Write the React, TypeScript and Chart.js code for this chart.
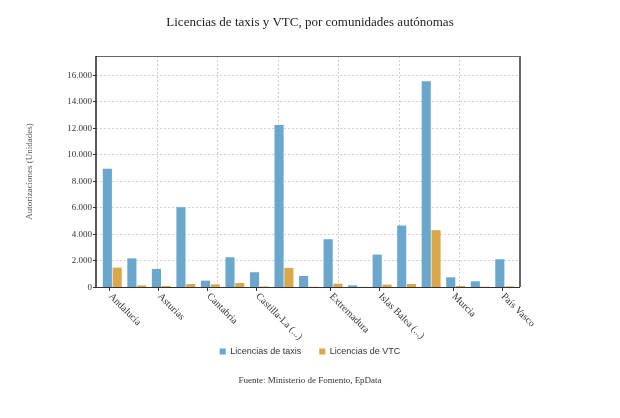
import React, { useEffect, useRef } from 'react';
import { Chart, registerables } from 'chart.js';

Chart.register(...registerables);

const chartTitle = 'Licencias de taxis y VTC, por comunidades autónomas';
const yAxisTitle = 'Autorizaciones (Unidades)';
const sourceText = 'Fuente: Ministerio de Fomento, EpData';

const categories = [
  'Andalucía', 'Aragón', 'Asturias', 'Canarias', 'Cantabria', 'Castilla y León',
  'Castilla-La Mancha', 'Cataluña', 'Comunitat Valenciana', 'Extremadura', 'Galicia',
  'Islas Baleares', 'La Rioja', 'Madrid', 'Murcia', 'Navarra', 'País Vasco',
];
const tickLabels = [
  'Andalucía', '', 'Asturias', '', 'Cantabria', '', 'Castilla-La (...)', '', '',
  'Extremadura', '', 'Islas Balea (...)', '', '', 'Murcia', '', 'País Vasco',
];
const seriesNames = ['Licencias de taxis', 'Licencias de VTC'];
const taxis = [8900, 2160, 1360, 6010, 480, 2240, 1110, 12200, 830, 3600, 125, 2440, 4630, 15500, 730, 430, 2090];
const vtc = [1460, 125, 75, 225, 200, 300, 45, 1440, 20, 250, 10, 180, 225, 4280, 75, 25, 50];
const yTicks = [0, 2000, 4000, 6000, 8000, 10000, 12000, 14000, 16000];
const yMax = 17400;

const COLORS = ['#6BA6CD', '#D9A84A'];
const SERIF = '"Liberation Serif", "Times New Roman", serif';
const SANS = '"Liberation Sans", Arial, sans-serif';

const fmt = (v: number) => String(v).replace(/\B(?=(\d{3})+(?!\d))/g, '.');

const decorPlugin = {
  id: 'decor',
  beforeDatasetsDraw(chart: any) {
    const { ctx, chartArea: a, scales } = chart;
    const FL = a.left - 4;
    const FR = a.right + 3;
    ctx.save();
    ctx.strokeStyle = '#d2d2d2';
    ctx.lineWidth = 1;
    ctx.setLineDash([2, 2]);
    yTicks.forEach((v) => {
      if (v === 0) return;
      const y = Math.round(scales.y.getPixelForValue(v)) + 0.5;
      ctx.beginPath();
      ctx.moveTo(FL, y);
      ctx.lineTo(FR, y);
      ctx.stroke();
    });
    for (let k = 1; k < 7; k++) {
      const x = Math.round(FL + ((FR - FL) * k) / 7) + 0.5;
      ctx.beginPath();
      ctx.moveTo(x, a.top);
      ctx.lineTo(x, a.bottom);
      ctx.stroke();
    }
    ctx.restore();
  },
  afterDraw(chart: any) {
    const { ctx, chartArea: a, scales, width } = chart;
    const FL = a.left - 4;
    const FR = a.right + 3;
    ctx.save();
    // frame
    ctx.strokeStyle = '#666';
    ctx.lineWidth = 1;
    ctx.beginPath();
    ctx.moveTo(FL, a.top + 0.5);
    ctx.lineTo(FR, a.top + 0.5);
    ctx.stroke();
    ctx.lineWidth = 2;
    ctx.beginPath();
    ctx.moveTo(FR, a.top);
    ctx.lineTo(FR, a.bottom);
    ctx.stroke();
    ctx.strokeStyle = '#222';
    ctx.lineWidth = 1.5;
    ctx.beginPath();
    ctx.moveTo(FL, a.top);
    ctx.lineTo(FL, a.bottom + 1);
    ctx.stroke();
    ctx.lineWidth = 1;
    ctx.strokeStyle = '#333';
    ctx.beginPath();
    ctx.moveTo(FL - 3, Math.round(a.bottom) + 0.5);
    ctx.lineTo(FR, Math.round(a.bottom) + 0.5);
    ctx.stroke();
    // y tick marks and labels
    ctx.fillStyle = '#333';
    ctx.font = `9px ${SERIF}`;
    ctx.textAlign = 'right';
    ctx.textBaseline = 'middle';
    yTicks.forEach((v) => {
      const y = Math.round(scales.y.getPixelForValue(v)) + 0.5;
      ctx.beginPath();
      ctx.moveTo(FL - 3, y);
      ctx.lineTo(FL, y);
      ctx.stroke();
      ctx.fillText(fmt(v), FL - 4, y);
    });
    // x tick labels
    ctx.font = `10px ${SERIF}`;
    tickLabels.forEach((lab, i) => {
      if (!lab) return;
      const x = scales.x.getPixelForValue(i) - 3;
      ctx.beginPath();
      ctx.moveTo(Math.round(x) + 0.5, a.bottom);
      ctx.lineTo(Math.round(x) + 0.5, a.bottom + 4);
      ctx.stroke();
      ctx.save();
      ctx.translate(x + 1, a.bottom + 8);
      ctx.rotate(Math.PI / 4);
      ctx.textAlign = 'left';
      ctx.textBaseline = 'middle';
      ctx.fillText(lab, 0, 0);
      ctx.restore();
    });
    // title
    ctx.fillStyle = '#222';
    ctx.font = `13px ${SERIF}`;
    ctx.textAlign = 'center';
    ctx.textBaseline = 'middle';
    ctx.fillText(chartTitle, width / 2, 23);
    // y axis title
    ctx.save();
    ctx.translate(30, (a.top + a.bottom) / 2);
    ctx.rotate(-Math.PI / 2);
    ctx.fillStyle = '#555';
    ctx.font = `9px ${SERIF}`;
    ctx.fillText(yAxisTitle, 0, 0);
    ctx.restore();
    // source
    ctx.fillStyle = '#333';
    ctx.font = `9px ${SERIF}`;
    ctx.fillText(sourceText, width / 2, 381);
    ctx.restore();
  },
};

export default function App() {
  const ref = useRef<HTMLCanvasElement>(null);
  useEffect(() => {
    if (!ref.current) return;
    const chart = new Chart(ref.current, {
      type: 'bar',
      data: {
        labels: categories,
        datasets: [
          { label: seriesNames[0], data: taxis, backgroundColor: COLORS[0], borderWidth: 0, categoryPercentage: 0.8, barPercentage: 0.93 },
          { label: seriesNames[1], data: vtc, backgroundColor: COLORS[1], borderWidth: 0, categoryPercentage: 0.8, barPercentage: 0.93 },
        ],
      },
      options: {
        responsive: false,
        animation: false,
        devicePixelRatio: 1,
        layout: { padding: { top: 56, bottom: 52, left: 0, right: 0 } },
        plugins: {
          tooltip: { enabled: false },
          title: { display: false },
          legend: {
            position: 'bottom',
            labels: {
              boxWidth: 6,
              boxHeight: 6,
              padding: 18,
              color: '#333',
              font: { family: SANS, size: 9 },
            },
          },
        },
        scales: {
          x: {
            type: 'category',
            offset: true,
            grid: { display: false, drawTicks: false },
            border: { display: false },
            ticks: { display: false },
            afterFit: (s: any) => { s.height = 42; },
          },
          y: {
            position: 'left',
            min: 0,
            max: yMax,
            grid: { display: false, drawTicks: false },
            border: { display: false },
            ticks: { display: false },
            afterFit: (s: any) => { s.width = 100; },
          },
          y2: {
            position: 'right',
            display: true,
            grid: { display: false, drawTicks: false },
            border: { display: false },
            ticks: { display: false },
            afterFit: (s: any) => { s.width = 103; },
          },
        },
      } as any,
      plugins: [decorPlugin],
    });
    return () => chart.destroy();
  }, []);
  return (
    <div style={{ position: 'absolute', left: 0, top: 0, width: 620, height: 418, background: '#fff' }}>
      <canvas ref={ref} width={620} height={418} style={{ display: 'block' }} />
    </div>
  );
}
